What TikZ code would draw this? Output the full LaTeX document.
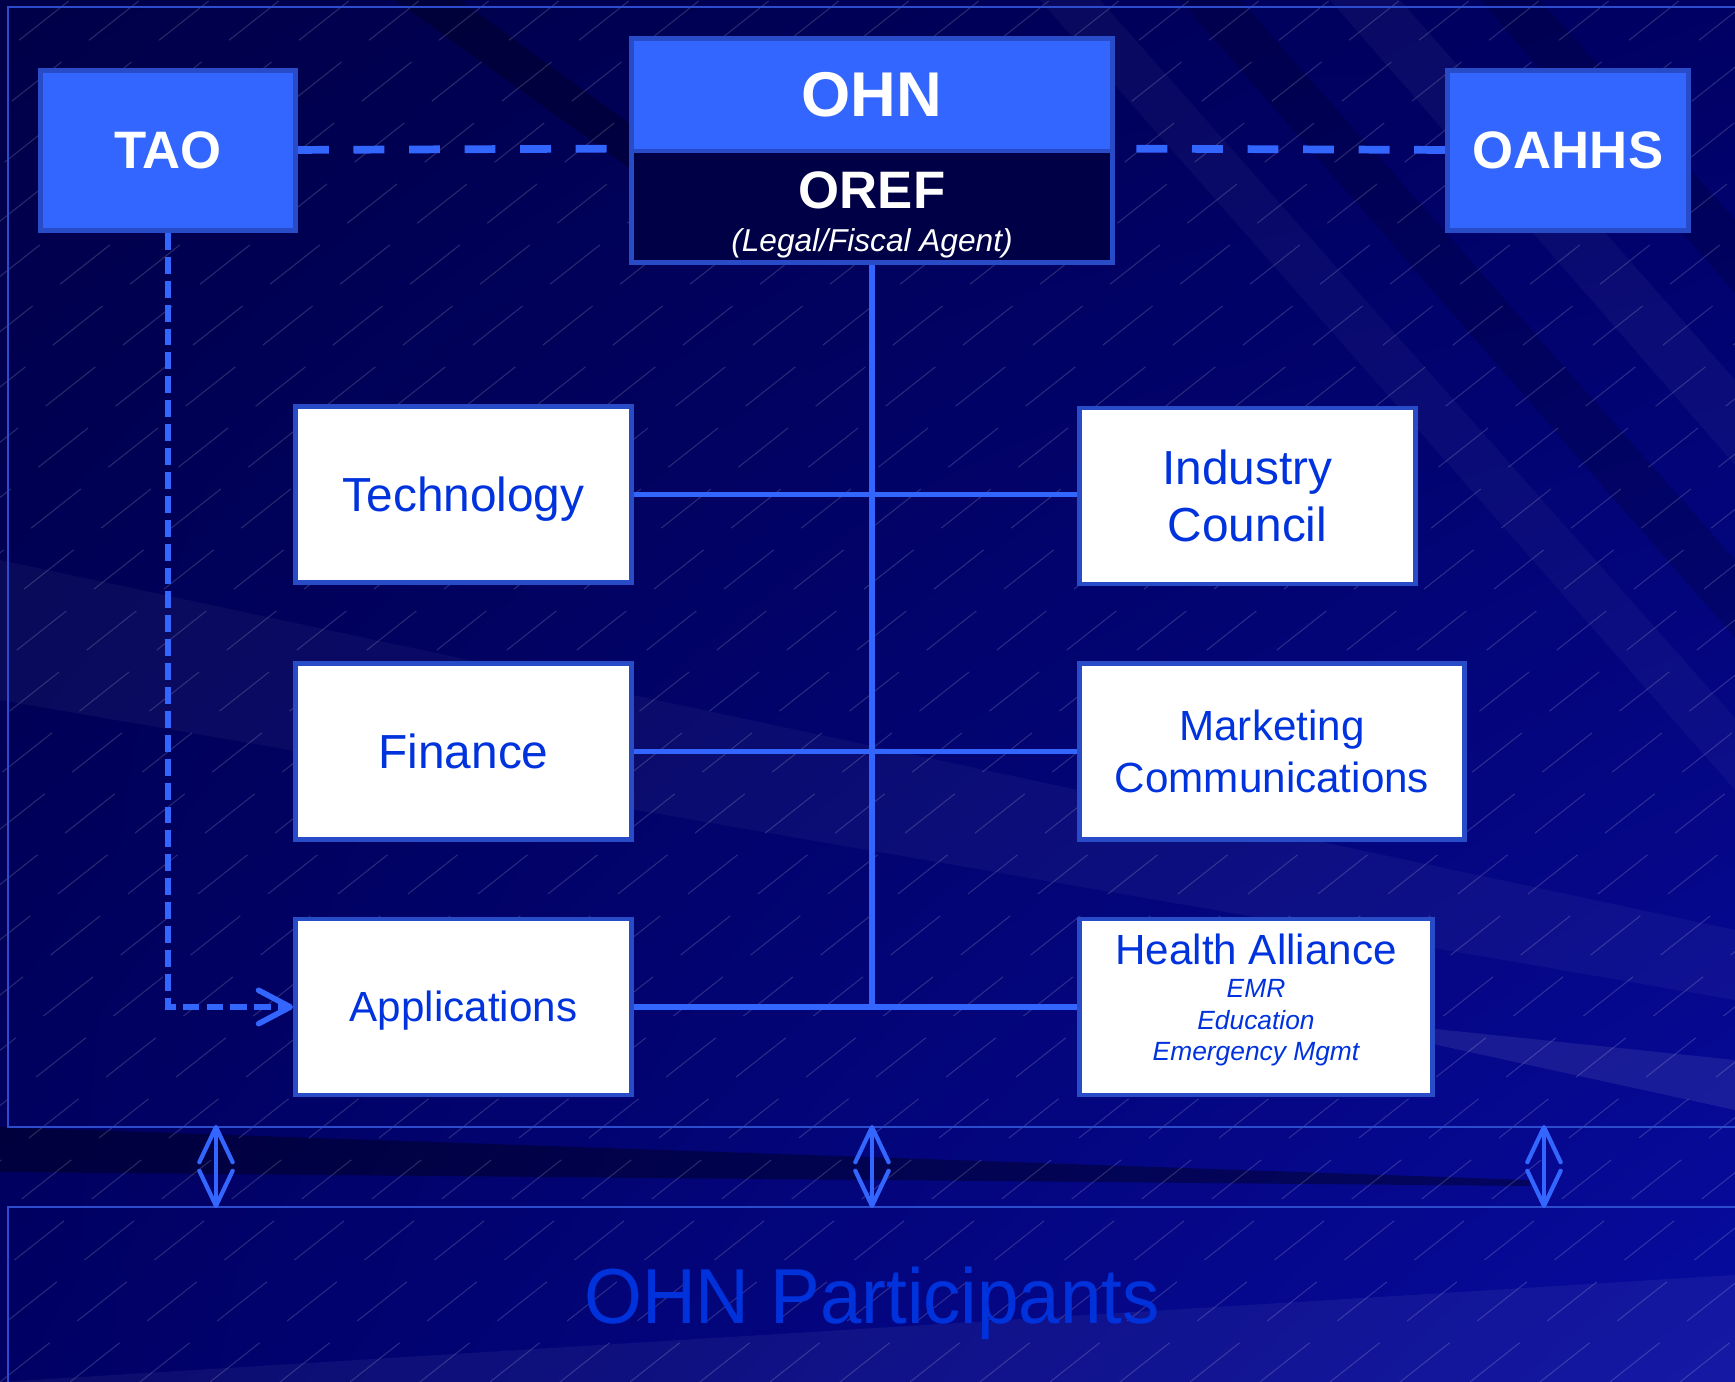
\documentclass[tikz,border=0pt]{standalone}
\usepackage{fontspec}
\setmainfont{Liberation Sans}
\newfontfamily\partfont[FakeStretch=0.955]{Liberation Sans}
\usetikzlibrary{arrows.meta,shadings}

\definecolor{ohnblue}{RGB}{51,102,255}
\definecolor{edgeblue}{RGB}{40,76,200}
\definecolor{textblue}{RGB}{0,51,221}
\definecolor{orefnavy}{RGB}{0,0,70}
\definecolor{framelin}{RGB}{45,75,205}
\definecolor{partblue}{RGB}{0,50,220}
\definecolor{bgul}{RGB}{0,0,72}
\definecolor{bgur}{RGB}{0,0,100}
\definecolor{bgll}{RGB}{0,0,100}
\definecolor{bglr}{RGB}{8,12,160}

\tikzset{
  topbox/.style={draw=edgeblue, line width=1.4pt, fill=ohnblue, text=white,
    font=\bfseries\fontsize{15}{18}\selectfont, inner sep=0pt},
  unitbox/.style={draw=edgeblue, line width=1.4pt, fill=white, text=textblue,
    align=center, inner sep=0pt, minimum height=17.6mm},
  link/.style={ohnblue, line width=1.5pt},
  linkdash/.style={ohnblue, line width=2.2pt, dash pattern=on 8.8pt off 7pt},
  taolink/.style={ohnblue, line width=1.6pt, dash pattern=on 4.8pt off 2pt,
    -{Straight Barb[length=9pt,width=9.5pt,round]}},
  partlink/.style={ohnblue, line width=1.2pt,
    {Straight Barb[length=10pt,width=9.5pt,round]}-{Straight Barb[length=10pt,width=9.5pt,round]}},
  frame/.style={framelin, line width=0.6pt},
  hatch/.style={white, opacity=0.16, line width=0.3pt, dash pattern=on 18pt off 10pt}
}

\begin{document}
\begin{tikzpicture}[x=0.1mm, y=-0.1mm]
  \useasboundingbox (0,0) rectangle (1735,1382);

  % background
  \shade[upper left=bgul, upper right=bgur, lower left=bgll, lower right=bglr] (0,0) rectangle (1735,1382);
  \begin{scope}
    \clip (0,0) rectangle (1735,1382);
    \fill[black, opacity=0.25] (395,0) -- (460,0) -- (720,190) -- (660,190) -- cycle;
    \fill[white, opacity=0.035] (1040,0) -- (1100,0) -- (1735,718) -- (1735,790) -- cycle;
    \fill[black, opacity=0.15] (1180,0) -- (1240,0) -- (1735,560) -- (1735,638) -- cycle;
    \fill[white, opacity=0.04] (1330,0) -- (1400,0) -- (1735,380) -- (1735,465) -- cycle;
    \fill[black, opacity=0.15] (1480,0) -- (1540,0) -- (1735,220) -- (1735,293) -- cycle;
    \fill[white, opacity=0.04] (0,560) -- (0,700) -- (1735,1000) -- (1735,930) -- cycle;
    \fill[white, opacity=0.08] (1300,1015) -- (1735,1060) -- (1735,1110) -- cycle;
    \fill[black, opacity=0.35] (0,1127) -- (0,1172) -- (1530,1186) -- (1530,1180) -- cycle;
    \fill[white, opacity=0.05] (0,1382) -- (1735,1275) -- (1735,1382) -- cycle;
    \foreach \k in {-26,...,26}
      \draw[hatch] (\k*70,1382) -- ++(1750,-1382);
  \end{scope}

  \draw[frame] (1735,7) -- (8,7) -- (8,1127) -- (1735,1127);
  \draw[frame] (1735,1207) -- (8,1207) -- (8,1382);

  % top row
  \node[topbox, minimum width=25.5mm, minimum height=16mm] (tao) at (168,150.5) {TAO};
  \node[topbox, minimum width=24.1mm, minimum height=16mm] (oahhs) at (1568,150.5) {OAHHS};
  \node[topbox, minimum width=48.1mm, minimum height=11.25mm,
    font=\bfseries\fontsize{18}{21}\selectfont] (ohn) at (872,94.75) {OHN};
  \node[topbox, fill=orefnavy, minimum width=48.1mm, minimum height=11.15mm] (oref) at (872,206.75) {};
  \node[text=white, align=center, font=\bfseries\fontsize{15}{18}\selectfont, inner sep=0pt]
    (oreftext) at ([yshift=-2.3pt]oref.center) {OREF\\[-6pt]{\fontsize{9}{11}\selectfont\mdseries\itshape (Legal/Fiscal Agent)}};

  % committees
  \node[unitbox, minimum width=33.6mm, font=\fontsize{13.6}{16.4}\selectfont,
    text height=12.3pt, text depth=2.9pt] (tech) at (463.5,494.5) {Technology};
  \node[unitbox, minimum width=33.6mm, font=\fontsize{13.6}{16.4}\selectfont,
    text height=12.3pt, text depth=2.9pt] (fin) at (463.5,751.5) {Finance};
  \node[unitbox, minimum width=33.6mm, font=\fontsize{12}{14.4}\selectfont,
    text height=10.9pt, text depth=2.5pt] (app) at (463.5,1007) {Applications};
  \node[unitbox, minimum width=33.6mm, font=\fontsize{13.6}{16.4}\selectfont] (ind) at (1247.5,496) {Industry\\Council};
  \node[unitbox, minimum width=38.5mm, font=\fontsize{12}{14.8}\selectfont] (mkt) at (1272,751.5) {Marketing\\Communications};
  \node[unitbox, minimum width=35.3mm] (hlth) at (1256,1007) {};
  \node[text=textblue, align=center, font=\fontsize{7.5}{9}\selectfont\itshape, inner sep=0pt]
    (hlthtext) at ([yshift=2pt]hlth.center)
    {{\fontsize{12}{14}\selectfont\upshape Health Alliance}\\[0.5pt]EMR\\Education\\Emergency Mgmt};

  \node[font=\partfont\fontsize{22.2}{26}\selectfont, text=partblue, anchor=base] (part) at (872,1323) {OHN Participants};

  % connectors
  \draw[linkdash] (tao) -- (oref.north west);
  \draw[linkdash] (oahhs) -- (oref.north east);
  \coordinate (hub) at (oref.south |- app);
  \draw[link] (oref) -- (hub);
  \draw[link] (tech) -- (tech -| ind.west);
  \draw[link] (fin) -- (mkt);
  \draw[link] (app) -- (hlth);
  \draw[taolink] (tao) |- (app);

  \foreach \x [count=\i] in {216,872,1544} {
    \coordinate (up\i) at (\x,1125);
    \coordinate (dn\i) at (\x,1208);
    \draw[partlink] (up\i) -- (dn\i);
  }
\end{tikzpicture}
\end{document}
